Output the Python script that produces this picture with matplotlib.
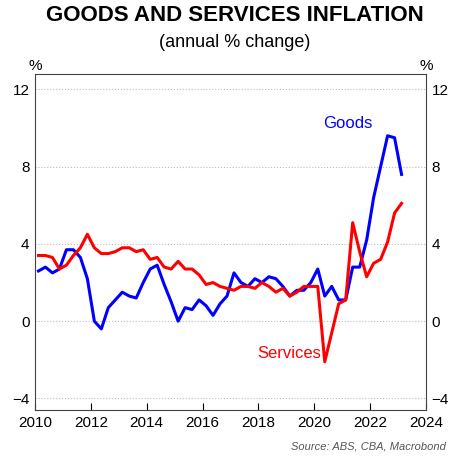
import numpy as np
import matplotlib.pyplot as plt

plt.rcParams["font.family"] = ["Liberation Sans", "DejaVu Sans"]

dates = 2010 + np.arange(53) / 4 + 0.125

goods = [2.6, 2.8, 2.5, 2.7,
         3.7, 3.7, 3.3, 2.2,
         0.0, -0.4, 0.7, 1.1,
         1.5, 1.3, 1.2, 2.0,
         2.7, 2.9, 1.9, 1.0,
         0.0, 0.7, 0.6, 1.1,
         0.8, 0.3, 0.9, 1.3,
         2.5, 2.0, 1.8, 2.2,
         2.0, 2.3, 2.2, 1.8,
         1.3, 1.6, 1.6, 2.0,
         2.7, 1.3, 1.8, 1.1,
         1.1, 2.8, 2.8, 4.2,
         6.4, 8.0, 9.6, 9.5,
         7.6]
services = [3.4, 3.4, 3.3, 2.7,
            2.9, 3.4, 3.8, 4.5,
            3.8, 3.5, 3.5, 3.6,
            3.8, 3.8, 3.6, 3.7,
            3.2, 3.3, 2.8, 2.7,
            3.1, 2.7, 2.7, 2.4,
            1.9, 2.0, 1.8, 1.7,
            1.6, 1.8, 1.8, 1.7,
            2.0, 1.8, 1.5, 1.7,
            1.3, 1.5, 1.8, 1.8,
            1.8, -2.1, -0.6, 0.9,
            1.1, 5.1, 3.6, 2.3,
            3.0, 3.2, 4.1, 5.6,
            6.1]
yticks = [-4, 0, 4, 8, 12]
xticks = [2010, 2012, 2014, 2016, 2018, 2020, 2022, 2024]

fig = plt.figure(figsize=(4.69, 4.58), dpi=100)
ax = fig.add_axes([35 / 469, 48 / 458, 391 / 469, 336 / 458])

ax.plot(dates, goods, color="#0000ff", lw=2.2)
ax.plot(dates, services, color="#ff0000", lw=2.2)

ax.set_xlim(2010, 2024)
ax.set_ylim(-4.6, 12.8)
ax.set_yticks(yticks)
ax.set_xticks(xticks)
ax.grid(axis="y", color="#bbbbbb", ls=":", lw=0.8)
ax.tick_params(axis="x", direction="in", length=5, labelsize=11, pad=4)
ax.tick_params(axis="y", length=0, labelsize=11, pad=4)
ax.tick_params(axis="y", right=True, labelright=True)
for s in ax.spines.values():
    s.set_color("#444444")
    s.set_linewidth(0.8)

ax.text(2021.2, 10.0, "Goods", color="#0000ff", fontsize=12, ha="center")
ax.text(2019.1, -1.9, "Services", color="#ff0000", fontsize=12, ha="center")

fig.text(0.5, 0.99, "GOODS AND SERVICES INFLATION", ha="center", va="top",
         fontsize=16, fontweight="bold")
fig.text(0.5, 0.925, "(annual % change)", ha="center", va="top", fontsize=13)
fig.text(35 / 469, 0.84, "%", ha="center", va="bottom", fontsize=11)
fig.text(426 / 469, 0.84, "%", ha="center", va="bottom", fontsize=11)
fig.text(446 / 469, 0.015, "Source: ABS, CBA, Macrobond", ha="right", va="bottom",
         fontsize=8, style="italic", color="#555555")

fig.savefig("out.png", dpi=100)
